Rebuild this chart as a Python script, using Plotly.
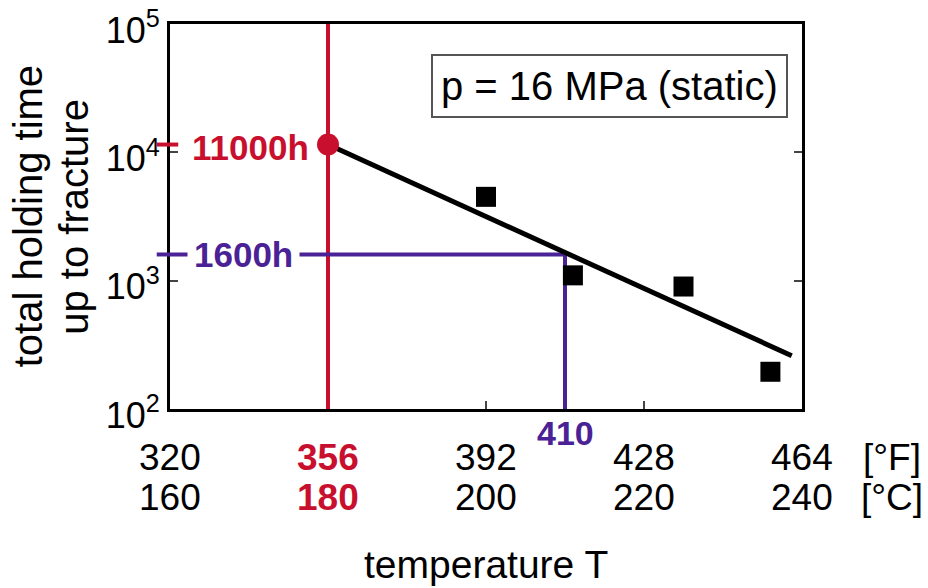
import math
import plotly.graph_objects as go

# ---- data ----
temp_C = [200, 211, 225, 236]            # measured points, °C
hold_h = [4500, 1100, 900, 195]          # total holding time up to fracture, h
trend_T = [180, 238.7]                   # fitted line endpoints, °C
trend_h = [11500, 260]
red_T, red_h = 180, 11500                # 11000 h at 180 °C
red_label = "11000h"
blue_T, blue_h = 210, 1600               # 1600 h at 210 °C
blue_label = "1600h"
tick_C = [160, 180, 200, 220, 240]
tick_F = [320, 356, 392, 428, 464]
y_tickvals = [100, 1000, 10000, 100000]
y_ticktext = ["10<sup>2</sup>", "10<sup>3</sup>", "10<sup>4</sup>", "10<sup>5</sup>"]

RED = "#C8102E"
BLUE = "#4B2196"
FONT = "Liberation Sans, Arial, sans-serif"
FS_T = 37   # tick labels
FS = 40     # titles

fig = go.Figure()
# reference lines
fig.add_trace(go.Scatter(x=[red_T, red_T], y=[100, 100000], mode="lines",
                         line=dict(color=RED, width=4), showlegend=False, hoverinfo="skip"))
fig.add_trace(go.Scatter(x=[160, blue_T, blue_T], y=[blue_h, blue_h, 100], mode="lines",
                         line=dict(color=BLUE, width=4), showlegend=False, hoverinfo="skip"))
# trend line
fig.add_trace(go.Scatter(x=trend_T, y=trend_h, mode="lines",
                         line=dict(color="black", width=5), showlegend=False))
# measured points
fig.add_trace(go.Scatter(x=temp_C, y=hold_h, mode="markers",
                         marker=dict(symbol="square", size=20, color="black"), showlegend=False))
fig.add_trace(go.Scatter(x=[red_T], y=[red_h], mode="markers", cliponaxis=False,
                         marker=dict(symbol="circle", size=22, color=RED), showlegend=False))

YMIN, YMAX = 2, 5
def ypaper(v):
    return (math.log10(v) - YMIN) / (YMAX - YMIN)

shapes = [
    dict(type="line", xref="paper", yref="paper", x0=-0.021, x1=0.013,
         y0=ypaper(red_h), y1=ypaper(red_h), line=dict(color=RED, width=4)),
    dict(type="line", xref="paper", yref="paper", x0=-0.021, x1=0.0,
         y0=ypaper(blue_h), y1=ypaper(blue_h), line=dict(color=BLUE, width=4)),
]

def A(**kw):
    d = dict(showarrow=False, xanchor="center", yanchor="middle")
    d.update(kw)
    return d

ann = []
# x tick labels (two rows)
for c, f in zip(tick_C, tick_F):
    col = RED if c == red_T else "black"
    bold = c == red_T
    ann.append(A(x=c, y=0, xref="x", yref="paper", yshift=-48,
                 text=f"<b>{f}</b>" if bold else str(f),
                 font=dict(size=FS_T, color=col, family=FONT)))
    ann.append(A(x=c, y=0, xref="x", yref="paper", yshift=-88,
                 text=f"<b>{c}</b>" if bold else str(c),
                 font=dict(size=FS_T, color=col, family=FONT)))
ann.append(A(x=blue_T, y=0, xref="x", yref="paper", yshift=-24,
             text="<b>410</b>", font=dict(size=34, color=BLUE, family=FONT)))
ann.append(A(x=1.142, y=0, xref="paper", yref="paper", yshift=-48,
             text="[°F]", font=dict(size=FS_T, color="black", family=FONT)))
ann.append(A(x=1.142, y=0, xref="paper", yref="paper", yshift=-88,
             text="[°C]", font=dict(size=FS_T, color="black", family=FONT)))
ann.append(A(x=0.5, y=0, xref="paper", yref="paper", yshift=-155,
             text="temperature T", font=dict(size=39, color="black", family=FONT)))
# y title
ann.append(A(x=-0.225, y=0.5, xref="paper", yref="paper", textangle=-90,
             text="total holding time", font=dict(size=FS, color="black", family=FONT)))
ann.append(A(x=-0.153, y=0.5, xref="paper", yref="paper", textangle=-90,
             text="up to fracture", font=dict(size=FS, color="black", family=FONT)))
# labels on reference lines
ann.append(A(x=0.128, y=math.log10(red_h), xref="paper", yref="y", yshift=-3,
             text=f"<b>{red_label}</b>", bgcolor="white", borderpad=3,
             font=dict(size=35, color=RED, family=FONT)))
ann.append(A(x=0.117, y=math.log10(blue_h), xref="paper", yref="y",
             text=f"<b>{blue_label}</b>", bgcolor="white", borderpad=6,
             font=dict(size=35, color=BLUE, family=FONT)))
# condition box
ann.append(A(x=0.696, y=0.839, xref="paper", yref="paper",
             text="p = 16 MPa (static)", bordercolor="#555555", borderwidth=2,
             borderpad=8, bgcolor="white", font=dict(size=FS, color="black", family=FONT)))

fig.update_layout(
    width=928, height=588, margin=dict(l=170, r=126, t=24, b=179, autoexpand=False),
    plot_bgcolor="white", paper_bgcolor="white",
    font=dict(family=FONT, size=FS, color="black"),
    shapes=shapes, annotations=ann, showlegend=False,
    xaxis=dict(range=[160, 240], showgrid=False, zeroline=False, showticklabels=False,
               ticks="inside", tickvals=[200, 220], ticklen=8, tickwidth=2, tickcolor="#444",
               showline=True, linecolor="black", linewidth=3, mirror=True, automargin=False),
    yaxis=dict(type="log", range=[YMIN - 1e-4, YMAX + 1e-4], showgrid=False, zeroline=False,
               tickvals=y_tickvals, ticktext=y_ticktext, ticks="inside", ticklen=8,
               tickwidth=2, tickcolor="#444", showline=True, linecolor="black",
               linewidth=3, mirror="ticks", tickfont=dict(size=36, family=FONT),
               ticklabeloverflow="allow", ticklabelshift=6, automargin=False),
)
fig.write_html("out.html", config={"displayModeBar": False},
               post_script="document.body.style.margin='0';")
